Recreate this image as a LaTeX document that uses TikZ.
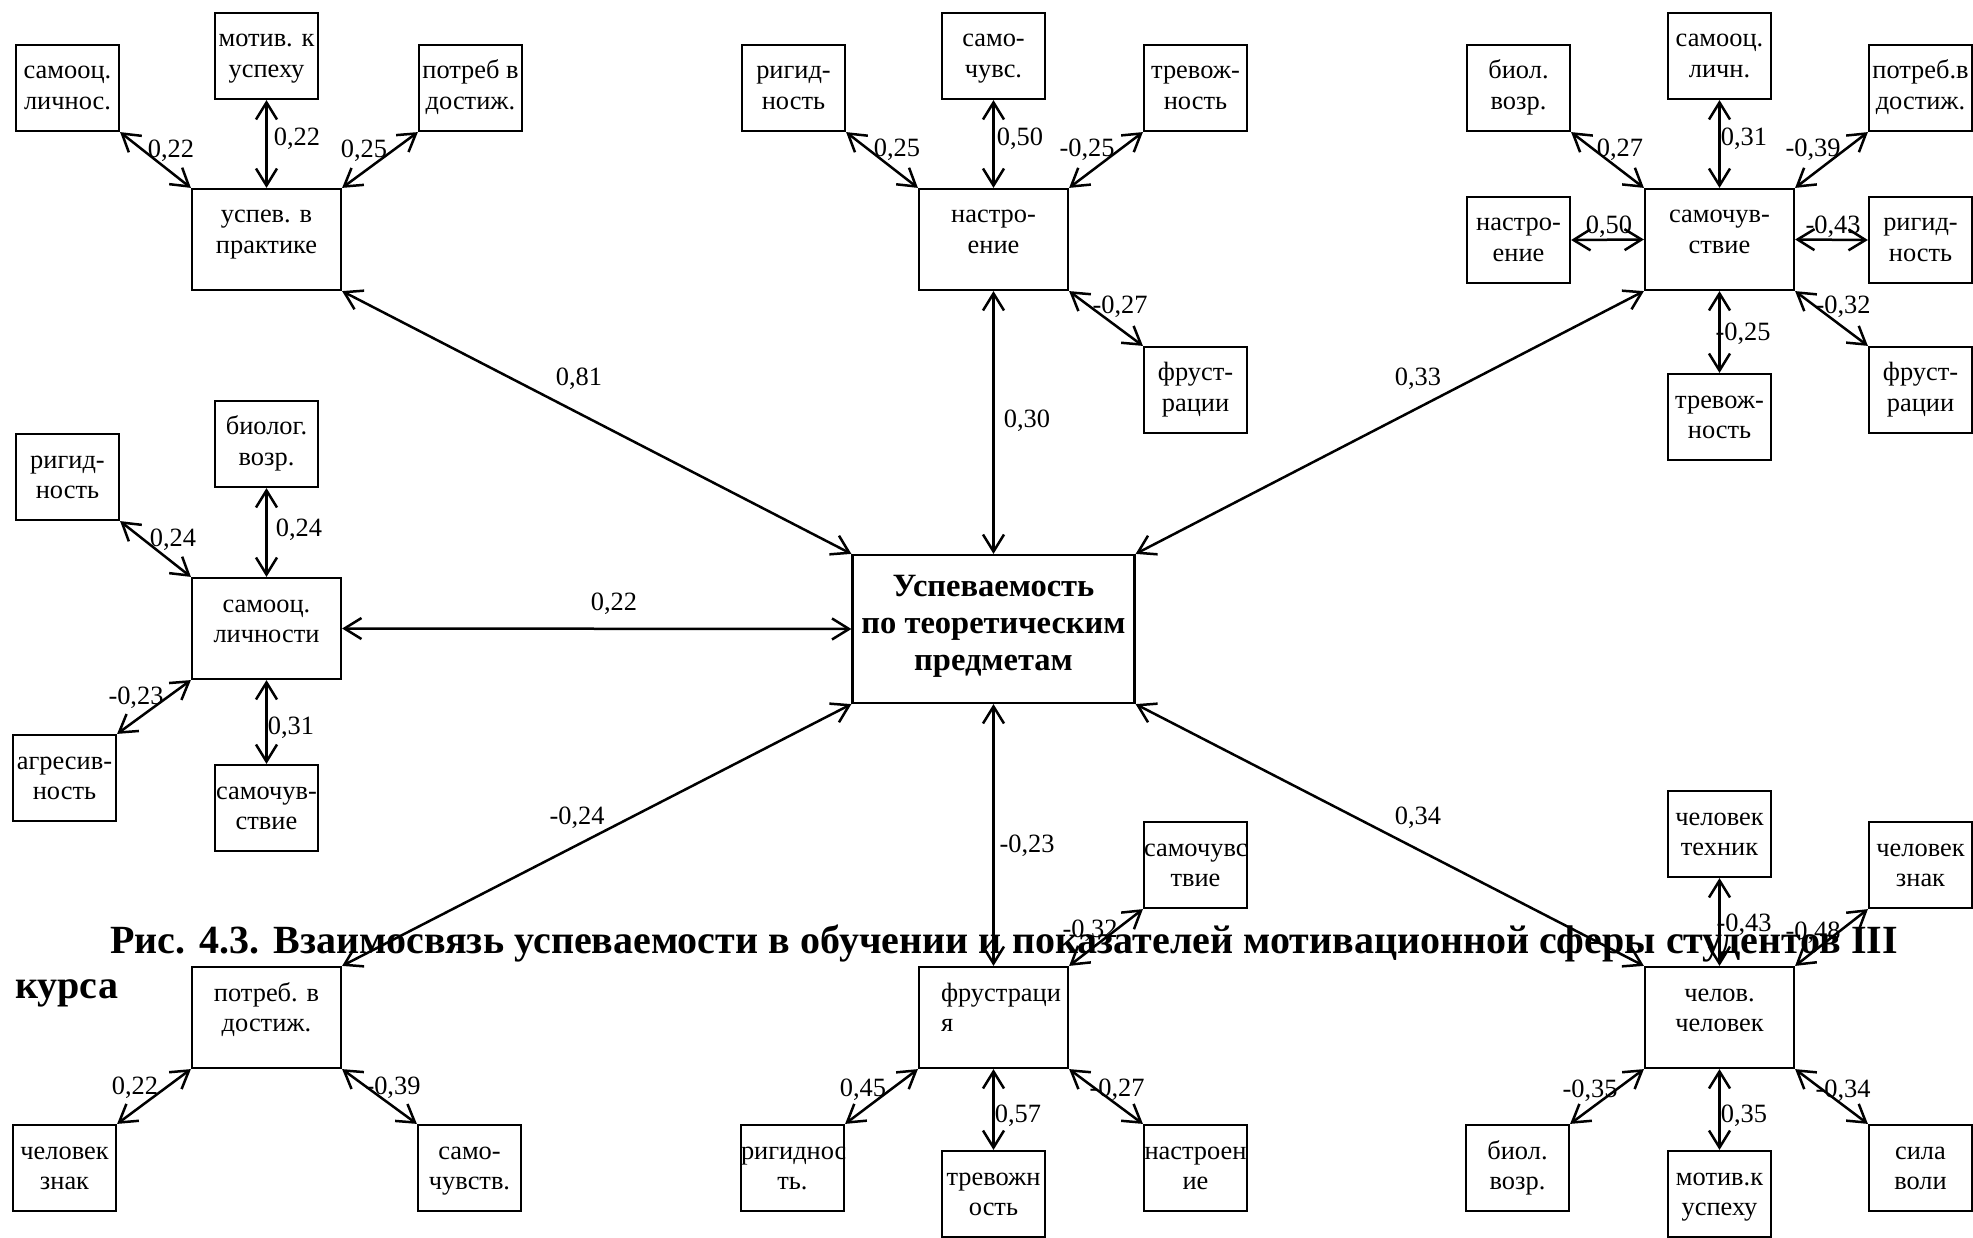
\documentclass[tikz,border=0pt]{standalone}
\usepackage{fontspec}
\setmainfont{Liberation Serif}
\usetikzlibrary{arrows.meta}
\newcommand\bxf{\fontsize{26.4pt}{30.8pt}\selectfont}
\newcommand\mnf{\fontsize{32.5pt}{37pt}\selectfont\bfseries}
\newcommand\capf{\fontsize{40pt}{45pt}\selectfont\bfseries}
\newcommand\tb[1]{\parbox[t]{103pt}{\centering #1}}
\newcommand\tc[1]{\parbox[t]{149pt}{\centering #1}}
\tikzset{
  sbox/.style={draw, line width=2.2pt, inner sep=0pt, minimum width=103pt, minimum height=86pt, text height=34pt, text depth=52pt, font=\bxf},
  cbox/.style={draw, line width=2.2pt, inner sep=0pt, minimum width=149pt, minimum height=101pt, text height=34pt, text depth=67pt, font=\bxf},
  mbox/.style={draw, line width=2.2pt, inner sep=0pt, minimum width=282pt, minimum height=148pt, text height=41pt, text depth=107pt, font=\mnf},
  lab/.style={inner sep=0pt, anchor=base, font=\bxf},
  conn/.style={line width=2.5pt, {Straight Barb[length=17pt,width=21pt]}-{Straight Barb[length=17pt,width=21pt]}},
  captext/.style={inner sep=0pt, anchor=base west, font=\capf}
}
\begin{document}
\begin{tikzpicture}[x=1pt,y=-1pt]
\useasboundingbox (0,0) rectangle (1973,1238);
% central
\node[mbox] (main) at (993.5,629) {\parbox[t]{282pt}{\centering Успеваемость\\по теоретическим\\предметам}};
% group top-left
\node[cbox] (ulc) at (266.5,239.5) {\tc{успев. в\\практике}};
\node[sbox] (ula) at (67.5,88) {\tb{самооц.\\личнос.}};
\node[sbox] (ulb) at (266.5,56) {\tb{мотив. к\\успеху}};
\node[sbox] (uld) at (470.5,88) {\tb{потреб в\\достиж.}};
% group top-middle
\node[cbox] (umc) at (993.5,239.5) {\tc{настро-\\ение}};
\node[sbox] (uma) at (793.5,88) {\tb{ригид-\\ность}};
\node[sbox] (umb) at (993.5,56) {\tb{само-\\чувс.}};
\node[sbox] (umd) at (1195.5,88) {\tb{тревож-\\ность}};
\node[sbox] (ume) at (1195.5,390) {\tb{фруст-\\рации}};
% group top-right
\node[cbox] (urc) at (1719.5,239.5) {\tc{самочув-\\ствие}};
\node[sbox] (ura) at (1518.5,88) {\tb{биол.\\возр.}};
\node[sbox] (urb) at (1719.5,56) {\tb{самооц.\\личн.}};
\node[sbox] (urd) at (1920.5,88) {\tb{потреб.в\\достиж.}};
\node[sbox] (ure) at (1518.5,240) {\tb{настро-\\ение}};
\node[sbox] (urf) at (1920.5,240) {\tb{ригид-\\ность}};
\node[sbox] (urg) at (1719.5,417) {\tb{тревож-\\ность}};
\node[sbox] (urh) at (1920.5,390) {\tb{фруст-\\рации}};
% group middle-left
\node[cbox] (mlc) at (266.5,628.5) {\tc{самооц.\\личности}};
\node[sbox] (mla) at (67.5,477) {\tb{ригид-\\ность}};
\node[sbox] (mlb) at (266.5,444) {\tb{биолог.\\возр.}};
\node[sbox] (mld) at (64.5,778) {\tb{агресив-\\ность}};
\node[sbox] (mle) at (266.5,808) {\tb{самочув-\\ствие}};
% group bottom-left
\node[cbox] (blc) at (266.5,1017.5) {\tc{потреб. в\\достиж.}};
\node[sbox] (bla) at (64.5,1168) {\tb{человек\\знак}};
\node[sbox] (blb) at (469.5,1168) {\tb{само-\\чувств.}};
% group bottom-middle
\node[cbox] (bmc) at (993.5,1017.5) {\parbox[t]{149pt}{\raggedright\leftskip=22pt фрустраци\\я}};
\node[sbox] (bma) at (1195.5,865) {\tb{самочувс\\твие}};
\node[sbox] (bmb) at (792.5,1168) {\tb{ригиднос\\ть.}};
\node[sbox] (bmd) at (993.5,1194) {\tb{тревожн\\ость}};
\node[sbox] (bme) at (1195.5,1168) {\tb{настроен\\ие}};
% group bottom-right
\node[cbox] (brc) at (1719.5,1017.5) {\tc{челов.\\человек}};
\node[sbox] (bra) at (1719.5,834) {\tb{человек\\техник}};
\node[sbox] (brb) at (1920.5,865) {\tb{человек\\знак}};
\node[sbox] (brd) at (1517.5,1168) {\tb{биол.\\возр.}};
\node[sbox] (bre) at (1719.5,1194) {\tb{мотив.к\\успеху}};
\node[sbox] (brf) at (1920.5,1168) {\tb{сила\\воли}};
% connectors
\draw[conn] (ula.south east) -- (ulc.north west);
\draw[conn] (ulb.south) -- (ulc.north);
\draw[conn] (uld.south west) -- (ulc.north east);
\draw[conn] (ulc.south east) -- (main.north west);
\draw[conn] (uma.south east) -- (umc.north west);
\draw[conn] (umb.south) -- (umc.north);
\draw[conn] (umd.south west) -- (umc.north east);
\draw[conn] (ume.north west) -- (umc.south east);
\draw[conn] (umc.south) -- (main.north);
\draw[conn] (ura.south east) -- (urc.north west);
\draw[conn] (urb.south) -- (urc.north);
\draw[conn] (urd.south west) -- (urc.north east);
\draw[conn] (ure.east) -- (urc.west);
\draw[conn] (urf.west) -- (urc.east);
\draw[conn] (urg.north) -- (urc.south);
\draw[conn] (urh.north west) -- (urc.south east);
\draw[conn] (main.north east) -- (urc.south west);
\draw[conn] (mla.south east) -- (mlc.north west);
\draw[conn] (mlb.south) -- (mlc.north);
\draw[conn] (mld.north east) -- (mlc.south west);
\draw[conn] (mle.north) -- (mlc.south);
\draw[conn] (main.west) -- (mlc.east);
\draw[conn] (main.south west) -- (blc.north east);
\draw[conn] (bla.north east) -- (blc.south west);
\draw[conn] (blb.north west) -- (blc.south east);
\draw[conn] (main.south) -- (bmc.north);
\draw[conn] (bma.south west) -- (bmc.north east);
\draw[conn] (bmb.north east) -- (bmc.south west);
\draw[conn] (bmd.north) -- (bmc.south);
\draw[conn] (bme.north west) -- (bmc.south east);
\draw[conn] (main.south east) -- (brc.north west);
\draw[conn] (bra.south) -- (brc.north);
\draw[conn] (brb.south west) -- (brc.north east);
\draw[conn] (brd.north east) -- (brc.south west);
\draw[conn] (bre.north) -- (brc.south);
\draw[conn] (brf.north west) -- (brc.south east);
% labels
\node[lab] (l1) at (171,158) {0,22};
\node[lab] (l2) at (297,146) {0,22};
\node[lab] (l3) at (364,158) {0,25};
\node[lab] (l4) at (897,157) {0,25};
\node[lab] (l5) at (1020,146) {0,50};
\node[lab] (l6) at (1087,157) {-0,25};
\node[lab] (l7) at (1120,314) {-0,27};
\node[lab] (l8) at (1027,427) {0,30};
\node[lab] (l9) at (1620,157) {0,27};
\node[lab] (l10) at (1744,146) {0,31};
\node[lab] (l11) at (1813,157) {-0,39};
\node[lab] (l12) at (1609,234) {0,50};
\node[lab] (l13) at (1833,234) {-0,43};
\node[lab] (l14) at (1843,314) {-0,32};
\node[lab] (l15) at (1743,341) {-0,25};
\node[lab] (l16) at (1418,386) {0,33};
\node[lab] (l17) at (579,386) {0,81};
\node[lab] (l18) at (173,546) {0,24};
\node[lab] (l19) at (299,536) {0,24};
\node[lab] (l20) at (136,704) {-0,23};
\node[lab] (l21) at (291,734) {0,31};
\node[lab] (l22) at (614,610) {0,22};
\node[lab] (l23) at (577,824) {-0,24};
\node[lab] (l24) at (1027,852) {-0,23};
\node[lab] (l25) at (1418,824) {0,34};
\node[lab] (l26) at (135,1094) {0,22};
\node[lab] (l27) at (393,1094) {-0,39};
\node[lab] (l28) at (1090,937) {-0,32};
\node[lab] (l29) at (863,1096) {0,45};
\node[lab] (l30) at (1018,1122) {0,57};
\node[lab] (l31) at (1117,1096) {-0,27};
\node[lab] (l32) at (1744,931) {-0,43};
\node[lab] (l33) at (1813,939) {-0,48};
\node[lab] (l34) at (1590,1097) {-0,35};
\node[lab] (l35) at (1744,1122) {0,35};
\node[lab] (l36) at (1843,1097) {-0,34};
% caption
\node[captext] (cap1) at (110,953) {\makebox[1788pt][s]{Рис. 4.3. Взаимосвязь успеваемости в обучении и показателей мотивационной сферы студентов III}};
\node[captext] (cap2) at (15,998) {курса};
\end{tikzpicture}
\end{document}
